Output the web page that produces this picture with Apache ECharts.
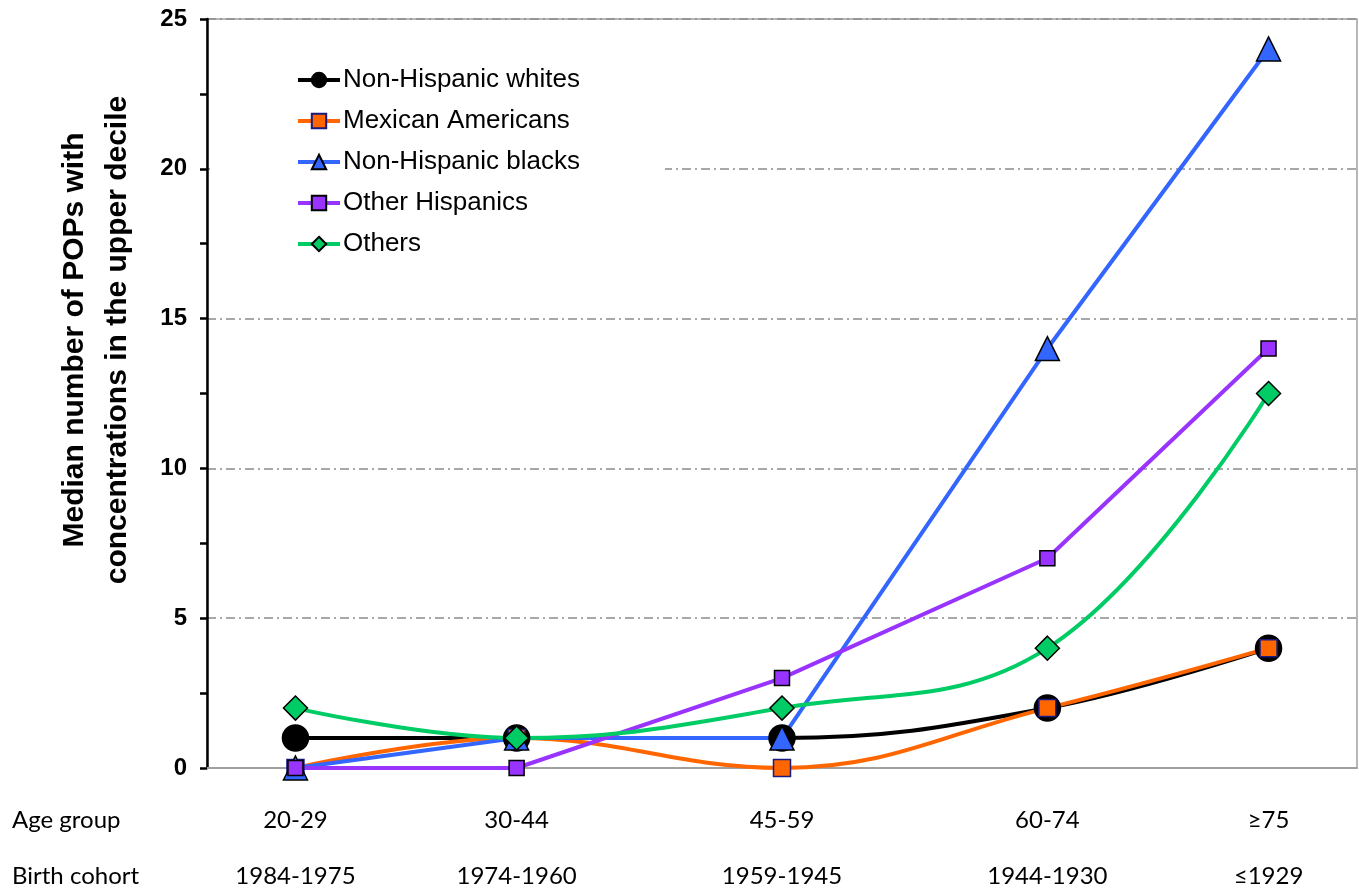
<!DOCTYPE html>
<html>
<head>
<meta charset="utf-8">
<style>
html,body{margin:0;padding:0;background:#fff;}
#chart{width:1359px;height:890px;}
</style>
<script src="https://cdn.jsdelivr.net/npm/echarts@6/dist/echarts.min.js"></script>
</head>
<body>
<div id="chart"></div>
<script>
// Categories (age groups), placed at age-group midpoints on the x scale
const ageGroups = ['20-29', '30-44', '45-59', '60-74', '≥75'];
const birthCohorts = ['1984-1975', '1974-1960', '1959-1945', '1944-1930', '≤1929'];
const agePositions = [24.5, 37, 52, 67, 79.5];

// Series values
const nonHispanicWhites = [1, 1, 1, 2, 4];
const mexicanAmericans = [0, 1, 0, 2, 4];
const nonHispanicBlacks = [0, 1, 1, 14, 24];
const otherHispanics = [0, 0, 3, 7, 14];
const others = [2, 1, 2, 4, 12.5];

// Y tick labels
const yTicks = [0, 5, 10, 15, 20, 25];

const pairs = vals => vals.map((v, i) => [agePositions[i], v]);

const chart = echarts.init(document.getElementById('chart'), null, {renderer: 'canvas'});

function ser(name, vals, color, symbol, size, smooth, border) {
  return {
    name: name,
    type: 'line',
    data: pairs(vals),
    smooth: smooth,
    symbol: symbol,
    symbolSize: size,
    showAllSymbol: true,
    lineStyle: {color: color, width: 4},
    itemStyle: {color: color, borderColor: border, borderWidth: 1.5},
    emphasis: {disabled: true},
    z: 2
  };
}

const ageMap = {}; const cohortMap = {};
agePositions.forEach((p, i) => { ageMap[p] = ageGroups[i]; cohortMap[p] = birthCohorts[i]; });

const option = {
  backgroundColor: '#fff',
  animation: false,
  grid: {left: 207, right: 2, top: 19, bottom: 122, show: true, borderColor: '#a0a0a0', borderWidth: 1.5, containLabel: false},
  legend: {
    orient: 'vertical',
    left: 210,
    top: 55,
    padding: [12, 85, 12, 86],
    backgroundColor: '#fff',
    itemGap: 15,
    itemWidth: 42,
    itemHeight: 18,
    lineStyle: {width: 4},
    textStyle: {fontFamily: 'Liberation Sans, Arial, sans-serif', fontSize: 26, color: '#000', padding: [0, 0, 0, -2]},
    data: ['Non-Hispanic whites', 'Mexican Americans', 'Non-Hispanic blacks', 'Other Hispanics', 'Others']
  },
  xAxis: [{
    type: 'value',
    min: 19.5,
    max: 84.5,
    position: 'bottom',
    axisLine: {show: true, onZero: false, lineStyle: {color: '#a0a0a0', width: 2}},
    axisTick: {show: false},
    splitLine: {show: false},
    axisLabel: {
      customValues: agePositions,
      formatter: v => ageMap[v] || '',
      margin: 52,
      verticalAlign: 'middle',
      fontFamily: 'Lato, sans-serif',
      fontSize: 24,
      color: '#000'
    }
  }, {
    type: 'value',
    min: 19.5,
    max: 84.5,
    position: 'bottom',
    axisLine: {show: false},
    axisTick: {show: false},
    splitLine: {show: false},
    axisLabel: {
      customValues: agePositions,
      formatter: v => cohortMap[v] || '',
      margin: 108,
      verticalAlign: 'middle',
      fontFamily: 'Lato, sans-serif',
      fontSize: 24,
      color: '#000'
    }
  }],
  yAxis: {
    type: 'value',
    min: yTicks[0],
    max: yTicks[yTicks.length - 1],
    interval: 5,
    axisLine: {show: true, lineStyle: {color: '#000', width: 2.5}},
    axisTick: {show: true, inside: false, length: 7, lineStyle: {color: '#000', width: 2.5}},
    minorTick: {show: true, splitNumber: 2, length: 7, lineStyle: {color: '#000', width: 2.5}},
    splitLine: {show: true, lineStyle: {color: '#8c8c8c', width: 1.5, type: [9, 4, 2, 4]}},
    axisLabel: {
      margin: 20,
      fontFamily: 'Liberation Sans, Arial, sans-serif',
      fontWeight: 'bold',
      fontSize: 24,
      color: '#000'
    }
  },
  graphic: [
    {
      type: 'text',
      x: 96, y: 340,
      rotation: Math.PI / 2,
      style: {
        text: 'Median number of POPs with\nconcentrations in the upper decile',
        fontFamily: 'Liberation Sans, Arial, sans-serif',
        fontWeight: 'bold',
        fontSize: 30,
        lineHeight: 43,
        fill: '#000',
        align: 'center',
        verticalAlign: 'middle'
      }
    },
    {
      type: 'text', x: 12, y: 820,
      style: {text: 'Age group', fontFamily: 'Lato, sans-serif', fontSize: 24, fill: '#000', align: 'left', verticalAlign: 'middle'}
    },
    {
      type: 'text', x: 12, y: 876,
      style: {text: 'Birth cohort', fontFamily: 'Lato, sans-serif', fontSize: 24, fill: '#000', align: 'left', verticalAlign: 'middle'}
    }
  ],
  series: [
    ser('Non-Hispanic whites', nonHispanicWhites, '#000000', 'circle', 26, 0.4, '#000'),
    ser('Mexican Americans', mexicanAmericans, '#FF6600', 'rect', 17, 0.4, '#1a1a80'),
    ser('Non-Hispanic blacks', nonHispanicBlacks, '#3366FF', 'triangle', 24, false, '#000'),
    ser('Other Hispanics', otherHispanics, '#9933FF', 'rect', 15, false, '#000'),
    ser('Others', others, '#00CC66', 'diamond', 24, 0.4, '#000')
  ]
};

chart.setOption(option);
</script>
</body>
</html>
